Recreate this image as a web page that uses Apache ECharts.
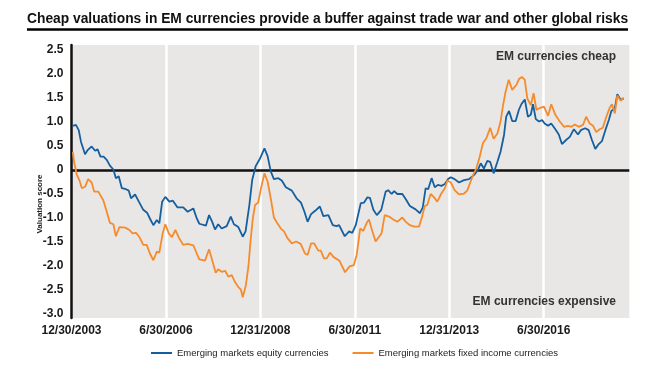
<!DOCTYPE html>
<html>
<head>
<meta charset="utf-8">
<script src="https://cdn.jsdelivr.net/npm/echarts@6/dist/echarts.min.js"></script>
<style>
html,body{margin:0;padding:0;background:#fff;}
#c{width:665px;height:370px;}
</style>
</head>
<body>
<div id="c"></div>
<script>
// Tick labels on the x axis (every 30 months starting at 12/30/2003)
const xTickLabels = ['12/30/2003','6/30/2006','12/31/2008','6/30/2011','12/31/2013','6/30/2016'];
const monthsPerTick = 30;
const axisEndMonth = 177.2;

// Emerging markets equity currencies: months since 12/2003, valuation score
const equityMonths = [0.4,1.4,2.3,3.0,4.3,5.2,6.4,7.5,8.3,9.2,
10.2,11.2,12.2,13.3,14.1,15.0,16.0,17.3,18.2,18.9,
20.2,21.4,22.8,24.0,24.9,26.0,27.1,27.9,28.8,29.8,
31.1,32.2,33.7,35.5,36.9,38.7,39.8,40.6,42.7,43.7,
44.7,45.6,46.6,47.7,49.3,50.6,51.6,53.0,54.4,55.3,
56.5,57.4,58.5,59.9,61.3,62.3,63.3,64.3,65.7,66.8,
68.1,70.0,71.5,72.9,74.0,75.0,76.1,77.4,78.9,80.0,
81.6,83.0,84.2,85.0,86.8,88.2,89.2,90.3,91.9,92.9,
94.0,94.8,95.9,97.0,98.4,99.8,100.6,101.7,102.5,103.5,
105.1,106.2,107.5,109.3,110.7,111.6,112.5,113.3,114.4,115.4,
116.4,117.5,118.6,119.6,120.5,121.7,123.1,124.7,126.3,128.1,
129.1,130.0,131.0,132.1,133.0,134.1,135.3,136.3,137.4,138.1,
139.0,140.0,141.1,142.1,142.9,144.0,145.0,145.9,146.6,147.5,
148.5,149.5,150.3,151.4,152.4,153.7,154.8,155.8,157.2,158.3,
159.6,160.9,161.8,163.2,164.3,165.3,166.4,167.5,168.5,169.6,
170.7,171.5,172.6,173.4,174.5,175.4];
const equityValues = [0.92,0.94,0.83,0.59,0.33,0.42,0.49,0.40,0.43,0.28,
0.28,0.21,0.09,0.01,-0.17,-0.13,-0.38,-0.40,-0.43,-0.59,
-0.51,-0.66,-0.83,-0.89,-1.01,-1.15,-1.04,-1.11,-0.66,-0.56,
-0.66,-0.64,-0.78,-0.78,-0.87,-0.80,-1.01,-1.12,-1.16,-0.94,
-1.08,-1.24,-1.13,-1.22,-1.17,-0.97,-1.13,-1.19,-1.39,-1.28,
-0.73,-0.21,0.08,0.24,0.45,0.29,-0.03,-0.19,-0.17,-0.22,
-0.36,-0.43,-0.59,-0.68,-0.87,-1.08,-0.92,-0.85,-0.76,-0.96,
-0.94,-1.15,-1.17,-1.15,-1.38,-1.28,-1.31,-1.15,-0.69,-0.68,
-0.57,-0.58,-0.83,-0.94,-0.83,-0.45,-0.42,-0.50,-0.44,-0.50,
-0.50,-0.61,-0.75,-0.82,-0.90,-0.78,-0.38,-0.40,-0.17,-0.36,
-0.31,-0.33,-0.29,-0.19,-0.15,-0.19,-0.26,-0.21,-0.19,-0.09,
0.00,0.14,0.03,0.19,0.17,-0.07,0.17,0.38,0.73,1.11,
1.23,1.02,1.02,1.25,1.37,1.47,1.11,1.15,1.37,1.06,
1.01,1.04,0.97,0.92,0.97,0.85,0.74,0.54,0.63,0.69,
0.85,0.74,0.83,0.87,0.83,0.63,0.44,0.54,0.60,0.83,
1.04,1.23,1.29,1.58,1.46,1.49];

// Emerging markets fixed income currencies
const fixedMonths = [0.4,0.9,1.7,2.5,3.3,4.3,5.3,6.4,7.2,8.5,
10.1,11.2,12.2,13.3,14.1,15.2,17.1,18.4,19.4,20.5,
21.5,22.8,23.9,24.9,26.0,27.1,27.9,29.0,29.8,30.9,
31.9,33.0,34.2,35.5,36.9,38.7,39.8,40.6,42.4,43.7,
44.7,45.8,46.6,47.7,48.8,49.8,50.9,51.9,53.0,53.8,
54.4,55.4,56.2,56.9,57.6,58.3,59.3,60.2,61.3,62.3,
63.4,64.3,65.4,66.5,67.5,68.6,70.0,71.3,72.8,74.2,
75.0,76.1,77.1,78.4,79.2,80.2,81.1,82.1,83.2,85.1,
86.9,88.3,89.7,90.6,91.7,92.7,93.8,94.5,95.6,96.6,
97.7,98.5,99.5,100.9,102.2,103.5,105.1,106.2,107.5,108.8,
110.4,111.4,112.2,113.0,114.1,115.2,116.2,117.5,118.6,119.4,
120.5,121.7,123.1,124.7,125.7,126.8,127.6,128.6,129.7,130.7,
131.8,133.0,134.1,135.3,136.3,137.1,137.9,138.9,140.0,141.3,
142.2,143.1,144.0,144.8,145.9,146.8,147.7,148.7,150.1,151.4,
152.4,153.7,155.1,156.5,157.7,158.8,159.9,161.1,162.5,163.5,
164.6,165.7,166.7,167.8,168.8,169.9,171.0,171.7,172.6,173.4,
174.5,175.4];
const fixedValues = [0.38,0.14,-0.10,-0.21,-0.38,-0.35,-0.19,-0.26,-0.45,-0.45,
-0.63,-0.87,-1.10,-1.13,-1.38,-1.19,-1.20,-1.25,-1.32,-1.31,
-1.39,-1.56,-1.56,-1.74,-1.88,-1.70,-1.72,-1.31,-1.13,-1.32,
-1.40,-1.25,-1.42,-1.56,-1.54,-1.57,-1.74,-1.86,-1.89,-1.65,
-1.88,-2.14,-2.07,-2.12,-2.10,-2.22,-2.19,-2.33,-2.44,-2.49,
-2.65,-2.40,-2.01,-1.46,-1.01,-0.73,-0.68,-0.38,-0.07,-0.24,
-0.63,-0.99,-1.11,-1.22,-1.28,-1.42,-1.53,-1.49,-1.54,-1.74,
-1.77,-1.53,-1.53,-1.68,-1.68,-1.84,-1.84,-1.72,-1.81,-1.89,
-2.13,-2.01,-1.98,-1.77,-1.22,-1.27,-1.10,-1.03,-1.28,-1.49,
-1.39,-1.32,-0.94,-0.97,-1.03,-1.08,-0.99,-1.08,-1.15,-1.18,
-1.18,-0.97,-0.75,-0.73,-0.50,-0.57,-0.66,-0.49,-0.38,-0.22,
-0.26,-0.42,-0.51,-0.49,-0.43,-0.24,-0.10,0.03,0.28,0.56,
0.66,0.88,0.65,0.76,1.01,1.35,1.63,1.88,1.67,1.77,
1.90,1.94,1.88,1.49,1.35,1.60,1.25,1.29,1.32,1.13,
1.37,1.15,1.01,0.90,0.92,0.90,0.95,0.90,0.94,1.11,
0.97,0.92,0.79,0.85,0.88,1.11,1.30,1.37,1.18,1.55,
1.44,1.51];

const seriesNames = ['Emerging markets equity currencies','Emerging markets fixed income currencies'];
const titleText = 'Cheap valuations in EM currencies provide a buffer against trade war and other global risks';

const FONT = "'Liberation Sans', Arial, Helvetica, sans-serif";
const chart = echarts.init(document.getElementById('c'), null, {renderer:'canvas'});

const toPairs = (ms, vs) => ms.map((m, i) => [m, vs[i]]);

const option = {
  animation: false,
  backgroundColor: '#ffffff',
  title: {
    text: titleText, left: 22, top: 7,
    textStyle: {fontFamily: FONT, fontSize: 13.8, fontWeight: 'bold', color: '#111'}
  },
  legend: {
    left: 146, top: 343, itemWidth: 21, itemHeight: 2, itemGap: 24, icon: 'rect',
    textStyle: {fontFamily: FONT, fontSize: 9.5, color: '#222'},
    data: seriesNames
  },
  grid: [
    {left: 71.5, right: 35.7, top: 45, bottom: 52, show: true, backgroundColor: '#e8e7e6', borderWidth: 0},
    {left: 71.5, right: 35.7, top: 50, bottom: 56}
  ],
  xAxis: [
    {gridIndex: 0, type: 'value', min: 0, max: axisEndMonth, interval: monthsPerTick,
     axisLine: {show: false, onZero: false}, axisTick: {show: false},
     splitLine: {show: true, showMinLine: false, showMaxLine: false, lineStyle: {color: '#ffffff', width: 2.5}},
     axisLabel: {
       fontFamily: FONT, fontSize: 12, fontWeight: 'bold', color: '#1a1a1a', margin: 7,
       showMaxLabel: false,
       formatter: v => {
         const k = Math.round(v / monthsPerTick);
         return Math.abs(k * monthsPerTick - v) < 1e-6 && xTickLabels[k] ? xTickLabels[k] : '';
       }
     }},
    {gridIndex: 1, type: 'value', min: 0, max: axisEndMonth, show: false}
  ],
  yAxis: [
    {gridIndex: 0, type: 'value', min: 0, max: 1,
     axisLine: {show: true, onZero: false, lineStyle: {color: '#111', width: 2.5}},
     axisTick: {show: false}, axisLabel: {show: false}, splitLine: {show: false}},
    {gridIndex: 1, type: 'value', min: -3, max: 2.5, interval: 0.5,
     axisLine: {show: false}, axisTick: {show: false}, splitLine: {show: false},
     axisLabel: {
       fontFamily: FONT, fontSize: 12, fontWeight: 'bold', color: '#1a1a1a', margin: 8,
       formatter: v => (Math.abs(v) < 1e-9 ? '0' : v.toFixed(1))
     }}
  ],
  series: [
    {
      name: seriesNames[0], type: 'line', xAxisIndex: 1, yAxisIndex: 1,
      data: toPairs(equityMonths, equityValues),
      showSymbol: false, symbol: 'none', z: 3,
      lineStyle: {color: '#165f9f', width: 1.8}, itemStyle: {color: '#165f9f'},
      markLine: {
        silent: true, symbol: 'none', label: {show: false}, z: 2,
        lineStyle: {color: '#111', width: 2.5, type: 'solid'},
        data: [{yAxis: 0}]
      }
    },
    {
      name: seriesNames[1], type: 'line', xAxisIndex: 1, yAxisIndex: 1,
      data: toPairs(fixedMonths, fixedValues),
      showSymbol: false, symbol: 'none', z: 3,
      lineStyle: {color: '#f68b2c', width: 1.8}, itemStyle: {color: '#f68b2c'}
    }
  ],
  graphic: [
    {type: 'line', z: 100, shape: {x1: 27, y1: 29.5, x2: 628, y2: 29.5}, style: {stroke: '#000', lineWidth: 2.5}, silent: true},
    {type: 'text', z: 100, right: 49, top: 51, style: {text: 'EM currencies cheap', font: "bold 12px 'Liberation Sans', Arial, sans-serif", fill: '#333'}},
    {type: 'text', z: 100, right: 49, top: 296, style: {text: 'EM currencies expensive', font: "bold 12px 'Liberation Sans', Arial, sans-serif", fill: '#333'}},
    {type: 'text', z: 100, x: 40, y: 204, rotation: Math.PI / 2,
     style: {text: 'Valuation score', font: "bold 8px 'Liberation Sans', Arial, sans-serif", fill: '#222', textAlign: 'center', textVerticalAlign: 'middle'}}
  ]
};
chart.setOption(option);
</script>
</body>
</html>
